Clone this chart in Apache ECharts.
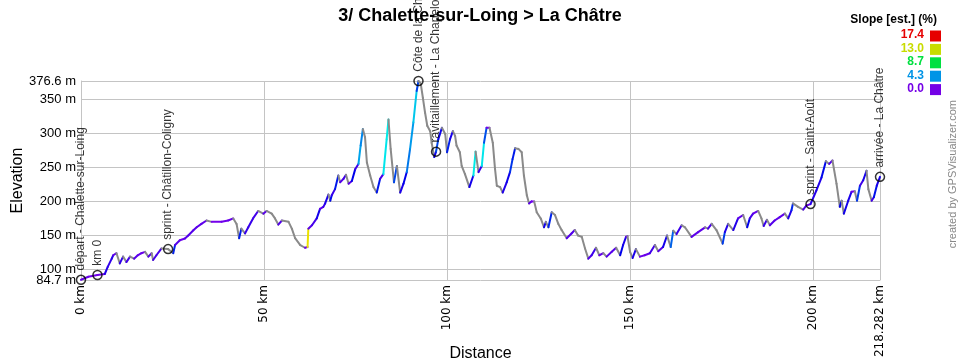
<!DOCTYPE html>
<html lang="en">
<head>
    <meta charset="UTF-8">
    <title>3/ Chalette-sur-Loing > La Châtre</title>
    <script src="https://cdn.jsdelivr.net/npm/echarts@6.0.0/dist/echarts.min.js"></script>
    <style>
        html, body { margin: 0; padding: 0; background: #fff; }
        #chart { width: 960px; height: 360px; }
    </style>
</head>
<body>
    <div id="chart"></div>

    <script>
        // profile: distance (km) / elevation (m)
        const dist = [0, 2, 4.5, 6.5, 7.3, 8.4, 8.8, 9.7, 10.6, 11.5, 12.4, 13.4, 14.5, 15.5, 16.5, 17.5, 18.4, 19.3, 19.7, 20.6,
            22, 23.8, 25.2, 25.7, 27, 28.4, 29.3, 30.7, 31.6, 32.9, 34.3, 35.7, 38.4, 40.2, 41.6, 42.5, 43.2, 43.8, 44.8, 45.7,
            47, 48.4, 49.8, 50.7, 52.1, 53, 53.9, 54.9, 56.7, 57.6, 58.5, 59.9, 61.2, 61.9, 62.1, 63.1, 64.4, 65.3, 66.2, 66.7,
            67.6, 68.1, 68.5, 69.4, 70.3, 70.8, 71.7, 72.4, 73.1, 74, 74.9, 75.8, 76.4, 77, 77.6, 78.1, 79, 79.9, 80.8, 81.7,
            82.6, 83.5, 84, 84.6, 85.5, 86.3, 87.2, 88.1, 89, 89.9, 90.8, 91.7, 92.2, 92.8, 93.4, 94, 94.6, 95.4, 95.8, 96.5,
            97, 97.6, 98.6, 99.5, 100, 100.8, 101.6, 102.2, 102.6, 103.5, 104, 104.9, 106.1, 107.2, 107.8, 108.6, 109.5, 110.1, 110.8, 111.6,
            112.5, 113.1, 113.6, 114.5, 115.2, 116.3, 117.2, 117.9, 118.6, 119.5, 120.4, 121, 121.8, 122.4, 123.1, 123.8, 124.5, 125.6, 126.5, 127,
            127.7, 128.6, 129.5, 130.4, 131.3, 132.7, 134, 134.9, 135.8, 136.8, 137.7, 138.6, 139.5, 140.7, 141.6, 142.7, 143.6, 145, 146.2, 147.3,
            148.1, 148.9, 149.3, 150, 150.7, 151.6, 152.7, 154, 155.4, 156.8, 157.7, 159, 160.1, 161.1, 161.8, 162.7, 164.1, 165, 166.8, 168.6,
            170.5, 171.3, 172.3, 173.6, 175.3, 175.9, 176.8, 178.2, 179.5, 180.9, 182, 182.7, 183.6, 185, 185.9, 186.5, 187.4, 188.2, 189.5, 190.9,
            192.3, 193.2, 194.1, 194.5, 195.9, 197.3, 198.2, 199.3, 200.9, 202.3, 203.5, 204.4, 205.3, 206.4, 207.3, 207.8, 208.4, 209.6, 210.5, 211.4,
            212, 212.8, 213.7, 214.6, 215.1, 216, 216.6, 217.4, 218.282];
        const elev = [85, 89.5, 92, 93.5, 104, 116, 121, 124, 109, 119, 111, 119, 116, 121, 124, 126, 119, 124, 114, 121,
            131, 130, 124, 136, 143, 145.5, 150, 157.6, 162, 167, 172, 170, 170, 172, 175, 167, 146, 160, 153, 162,
            175, 186, 182, 186, 182, 175, 166, 172, 170, 160, 146, 136, 132, 133, 160, 165, 175, 189, 192, 197,
            210, 201, 209, 218, 238, 228, 233, 239, 226, 230, 247, 255, 282, 306, 294, 257, 238, 221, 213, 233,
            240, 291, 320, 277, 228, 252, 213, 226, 243, 277, 316, 362, 376.6, 373, 352, 330, 311, 303, 286, 265,
            273, 291, 308, 299, 272, 291, 303, 296, 282, 272, 252, 240, 221, 238, 273, 243, 252, 286, 308, 308,
            286, 248, 223, 221, 213, 228, 243, 262, 278, 277, 272, 238, 209, 197, 200, 200, 184, 175, 162, 170,
            162, 184, 180, 167, 158, 146, 153, 158, 150, 148, 131, 116, 121, 132, 121, 124, 119, 126, 132, 121,
            136, 148, 149, 126, 117, 130, 119, 121, 124, 136, 127, 133, 150, 133, 157, 152, 165, 162, 148, 155,
            162, 160, 167, 158, 138, 155, 167, 158, 175, 180, 162, 175, 182, 186, 175, 164, 173, 165, 172, 177,
            182, 175, 187, 197, 192, 188, 194, 196, 216, 235, 259, 255, 260, 226, 192, 201, 182, 201, 214, 215,
            201, 223, 231, 245, 218, 201, 206, 223, 236];

        // waypoints
        const wpDist = [0, 4.5, 23.8, 92.2, 97, 199.3, 218.282];
        const wpElev = [85, 92, 130, 376.6, 273, 196, 236];
        const wpNames = ['départ - Chalette-sur-Loing', 'km 0', 'sprint - Châtillon-Coligny', 'Côte de la Chapelotte',
            'ravitaillement - La Chapelotte', 'sprint - Saint-Août', 'arrivée - La Châtre'];

        // axes
        const yMin = 84.7, yMax = 376.6;
        const yTicks = [100, 150, 200, 250, 300, 350, 376.6];
        const xTicks = [0, 50, 100, 150, 200, 218.282];

        // slope legend (hue of each stop for the track colour)
        const slopeStops = [17.4, 13.0, 8.7, 4.3, 0.0];
        const slopeColors = ['#e60000', '#c8dc00', '#00e040', '#0094e6', '#7400e6'];
        const slopeHues = [0, 65, 137, 201, 270];

        function hsvToRgb(h, s, v) {
            const f = n => {
                const k = (n + h / 60) % 6;
                return Math.round(255 * (v - v * s * Math.max(0, Math.min(k, 4 - k, 1))));
            };
            return 'rgb(' + f(5) + ',' + f(3) + ',' + f(1) + ')';
        }

        // colour of a piece of track from its slope (descents are grey)
        function slopeColor(s) {
            if (s < 0) return '#8a8a8a';
            if (s >= slopeStops[0]) return slopeColors[0];
            let i = slopeStops.length - 1;
            while (s > slopeStops[i - 1]) i--;
            const t = (s - slopeStops[i]) / (slopeStops[i - 1] - slopeStops[i]);
            const h = slopeHues[i] + (slopeHues[i - 1] - slopeHues[i]) * t;
            return hsvToRgb(h, 1, 0.92);
        }

        const segments = [];
        for (let i = 1; i < dist.length; i++) {
            const slope = (elev[i] - elev[i - 1]) / ((dist[i] - dist[i - 1]) * 1000) * 100;
            segments.push([dist[i - 1], elev[i - 1], dist[i], elev[i], slope]);
        }

        const waypoints = wpDist.map((d, i) => ({ value: [d, wpElev[i]], name: wpNames[i] }));

        const legendGraphics = [{
            type: 'text',
            right: 23,
            top: 14,
            style: { text: 'Slope [est.] (%)', font: 'bold 12px "Liberation Sans", Arial, sans-serif', fill: '#000' }
        }];
        slopeStops.forEach((s, i) => {
            legendGraphics.push({
                type: 'text',
                right: 36,
                top: 29 + i * 13.4,
                style: { text: s.toFixed(1), font: 'bold 12px "Liberation Sans", Arial, sans-serif', fill: slopeColors[i] }
            });
            legendGraphics.push({
                type: 'rect',
                left: 930,
                top: 30.5 + i * 13.4,
                shape: { width: 11, height: 11 },
                style: { fill: slopeColors[i] }
            });
        });
        legendGraphics.push({
            type: 'text',
            left: 947,
            top: 100,
            rotation: Math.PI / 2,
            style: { text: 'created by GPSVisualizer.com', font: '11px "Liberation Sans", Arial, sans-serif', fill: '#888' }
        });

        const yLabelStyle = {
            margin: 5,
            hideOverlap: false,
            showMinLabel: true,
            showMaxLabel: true,
            fontFamily: '"Liberation Sans", Arial, sans-serif',
            fontSize: 13,
            color: '#000',
            formatter: v => v + ' m'
        };

        const chart = echarts.init(document.getElementById('chart'));
        const option = {
            animation: false,
            title: {
                text: '3/ Chalette-sur-Loing > La Châtre',
                left: 'center',
                top: 2,
                textStyle: { fontFamily: '"Liberation Sans", Arial, sans-serif', fontSize: 18, fontWeight: 'bold', color: '#000' }
            },
            grid: { left: 81, right: 80, top: 81, bottom: 80, outerBoundsMode: 'none', containLabel: false },
            xAxis: {
                type: 'value',
                min: 0,
                max: 218.282,
                name: 'Distance',
                nameLocation: 'middle',
                nameGap: 66,
                nameMoveOverlap: false,
                nameTextStyle: { fontFamily: '"Liberation Sans", Arial, sans-serif', fontSize: 16, color: '#000' },
                axisLine: { show: true, lineStyle: { color: '#c4c4c4', width: 1 } },
                axisTick: { show: false, customValues: xTicks },
                splitLine: { show: true, lineStyle: { color: '#c4c4c4', width: 1 } },
                axisLabel: {
                    customValues: xTicks,
                    rotate: 90,
                    margin: 5,
                    hideOverlap: false,
                    showMinLabel: true,
                    showMaxLabel: true,
                    fontFamily: '"DejaVu Sans", Verdana, sans-serif',
                    fontSize: 12,
                    color: '#000',
                    formatter: v => v + ' km'
                }
            },
            yAxis: [
                {
                    type: 'value',
                    position: 'left',
                    min: yMin,
                    max: yMax,
                    name: 'Elevation',
                    nameLocation: 'middle',
                    nameGap: 55,
                    nameMoveOverlap: false,
                    nameTextStyle: { fontFamily: '"Liberation Sans", Arial, sans-serif', fontSize: 16, color: '#000' },
                    axisLine: { show: true, lineStyle: { color: '#c4c4c4', width: 1 } },
                    axisTick: { show: false, customValues: yTicks },
                    splitLine: { show: true, lineStyle: { color: '#c4c4c4', width: 1 } },
                    axisLabel: Object.assign({ customValues: yTicks }, yLabelStyle)
                },
                {
                    // second left axis only carries the min label, so it is not dropped as an overlap
                    type: 'value',
                    position: 'left',
                    offset: 0,
                    min: yMin,
                    max: yMax,
                    axisLine: { show: false },
                    axisTick: { show: false, customValues: [yMin] },
                    splitLine: { show: false },
                    axisLabel: Object.assign({ customValues: [yMin] }, yLabelStyle)
                }
            ],
            graphic: legendGraphics,
            series: [
                {
                    type: 'custom',
                    data: segments,
                    encode: { x: [0, 2], y: [1, 3] },
                    renderItem: function (params, api) {
                        const p0 = api.coord([api.value(0), api.value(1)]);
                        const p1 = api.coord([api.value(2), api.value(3)]);
                        return {
                            type: 'line',
                            shape: { x1: p0[0], y1: p0[1], x2: p1[0], y2: p1[1] },
                            style: { stroke: slopeColor(api.value(4)), lineWidth: 2, lineCap: 'round' }
                        };
                    },
                    z: 2
                },
                {
                    type: 'scatter',
                    data: waypoints,
                    symbol: 'circle',
                    symbolSize: 9,
                    itemStyle: { color: 'rgba(0,0,0,0)', borderColor: '#000', borderWidth: 1.5 },
                    label: {
                        show: true,
                        position: 'top',
                        distance: 4,
                        rotate: 90,
                        align: 'left',
                        verticalAlign: 'middle',
                        fontFamily: '"Liberation Sans", Arial, sans-serif',
                        fontSize: 12,
                        color: '#000',
                        formatter: p => p.name
                    },
                    z: 5
                }
            ]
        };
        chart.setOption(option);
    </script>
</body>
</html>
